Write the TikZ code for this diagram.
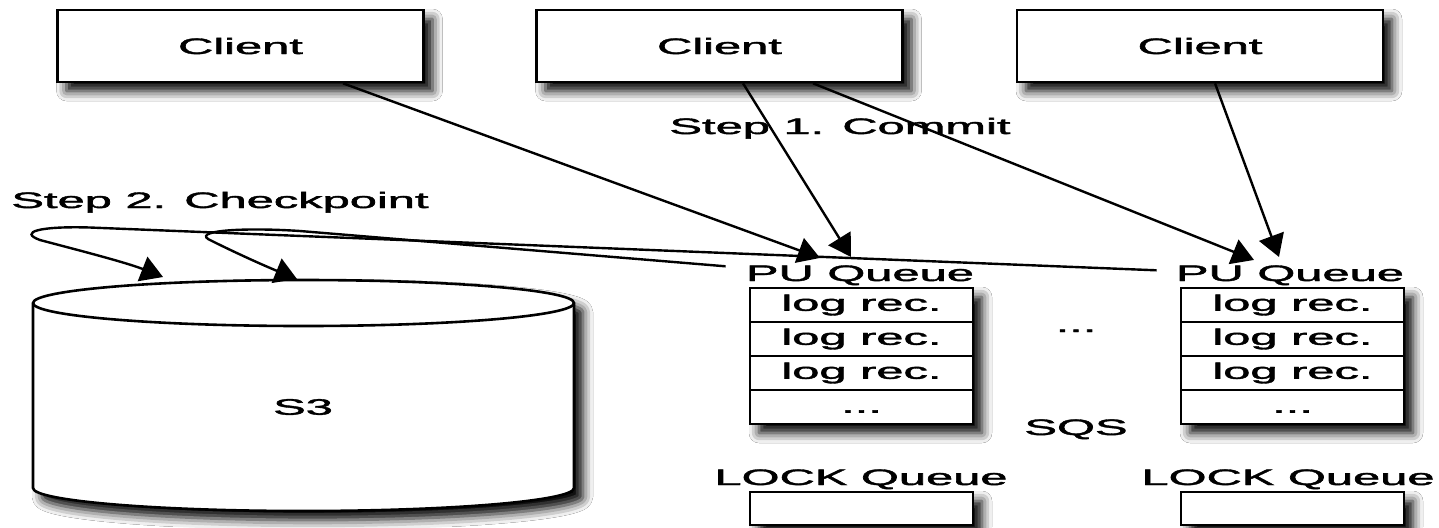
\documentclass[tikz,border=0pt]{standalone}
\usepackage{fontspec}
\setmainfont{Liberation Sans}[FakeBold=1.5]
\usepackage{graphicx}
\usetikzlibrary{arrows.meta,shadows.blur}
\newcommand{\sx}[1]{\scalebox{2.18}[1]{#1}}
\begin{document}
\begin{tikzpicture}[x=0.5pt,y=-0.5pt,
  every node/.style={font=\fontsize{11.2pt}{13pt}\selectfont},
  shad/.style={blur shadow={shadow xshift=4.5pt,shadow yshift=-4.5pt,shadow blur radius=5pt,shadow opacity=100}},
  client/.style={draw,line width=1.3pt,fill=white,shad,minimum width=183pt,minimum height=36pt,inner sep=0pt},
  cell/.style={draw,line width=1pt,minimum width=111.5pt,minimum height=17pt,inner sep=0pt,text height=8.2pt,text depth=2.4pt},
  qbox/.style={draw,line width=1.3pt,fill=white,shad,minimum width=111.5pt,minimum height=68pt,inner sep=0pt},
  lockbox/.style={draw,line width=1.3pt,fill=white,shad,minimum width=111.5pt,minimum height=16.5pt,inner sep=0pt},
  lbl/.style={inner sep=0pt,anchor=base},
  arr/.style={line width=1.2pt,-{Triangle[length=11pt,width=13pt,fill=black]}}
]
\useasboundingbox (0,0) rectangle (1439,527);
\fill[white] (0,0) rectangle (1439,527);

% clients
\node[client] (c1) at (240.5,46) {\sx{Client}};
\node[client] (c2) at (719.5,46) {\sx{Client}};
\node[client] (c3) at (1200,46) {\sx{Client}};

% labels
\node[lbl] (commit) at (840,134) {\sx{Step 1. Commit}};
\node[lbl] (ckpt) at (220,208) {\sx{Step 2. Checkpoint}};
\node[lbl] (pu1l) at (860,281) {\sx{PU Queue}};
\node[lbl] (pu2l) at (1290,281) {\sx{PU Queue}};

% queue 1
\node[qbox] (q1) at (861.5,356) {};
\node[cell] (q1a) at (861.5,305) {\sx{log rec.}};
\node[cell] (q1b) at (861.5,339) {\sx{log rec.}};
\node[cell] (q1c) at (861.5,373) {\sx{log rec.}};
\node[cell] (q1d) at (861.5,407) {\sx{...}};
% queue 2
\node[qbox] (q2) at (1292.5,356) {};
\node[cell] (q2a) at (1292.5,305) {\sx{log rec.}};
\node[cell] (q2b) at (1292.5,339) {\sx{log rec.}};
\node[cell] (q2c) at (1292.5,373) {\sx{log rec.}};
\node[cell] (q2d) at (1292.5,407) {\sx{...}};

\node[lbl] (dots) at (1076,332) {\sx{...}};
\node[lbl] (sqs) at (1076,435) {\sx{SQS}};
\node[lbl] (lk1l) at (861,485) {\sx{LOCK Queue}};
\node[lbl] (lk2l) at (1288,485) {\sx{LOCK Queue}};
\node[lockbox] (lk1) at (861.5,508.5) {};
\node[lockbox] (lk2) at (1292.5,508.5) {};

% S3 cylinder
\path[draw,line width=1.3pt,fill=white,shad] (33,303) -- (33,488)
  arc[start angle=180,end angle=360,x radius=135.25pt,y radius=11.5pt] -- (574,303)
  arc[start angle=0,end angle=180,x radius=135.25pt,y radius=11.5pt] -- cycle;
\draw[line width=1.3pt] (33,303) arc[start angle=180,end angle=360,x radius=135.25pt,y radius=11.5pt];
\node (s3) at (303,407) {\sx{S3}};
\coordinate (s3a) at (163,277);
\coordinate (s3b) at (297,279);

% commit arrows
\draw[arr] ([shift={(102.5,0)}]c1.south) -- ([shift={(-40,-7)}]pu1l.north);
\draw[arr] ([shift={(23.5,0)}]c2.south) -- ([shift={(-9,-8)}]pu1l.north);
\draw[arr] ([shift={(93.5,0)}]c2.south) -- ([shift={(-36,-5)}]pu2l.north);
\draw[arr] ([shift={(15,0)}]c3.south) -- ([shift={(-11,-8)}]pu2l.north);

% checkpoint arrows
\draw[arr] ([shift={(-19,-5)}]pu2l.west) -- (90,227.5)
  .. controls (40,226) and (18,232) .. (40,240)
  .. controls (70,248) and (125,262) .. (s3a);
\draw[arr] ([shift={(-20,-9)}]pu1l.west) -- (300,231)
  .. controls (240,227) and (188,231) .. (212,241)
  .. controls (236,253) and (265,266) .. (s3b);
\end{tikzpicture}
\end{document}
